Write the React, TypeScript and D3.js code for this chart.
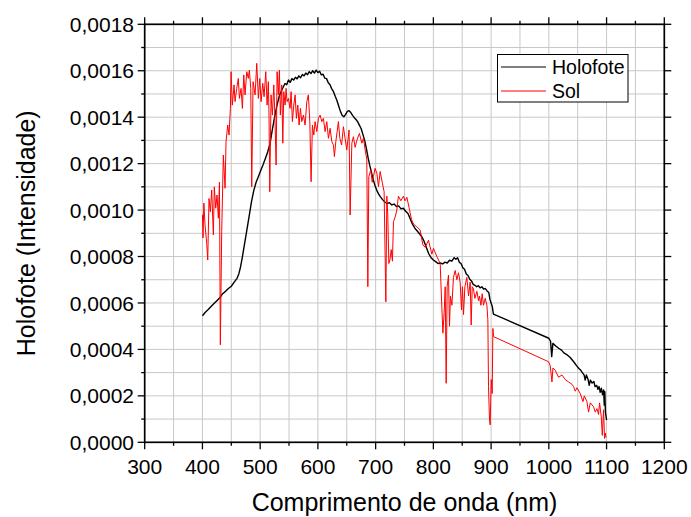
import React from "react";
import * as d3 from "d3";

const xTicks = [300, 400, 500, 600, 700, 800, 900, 1000, 1100, 1200];
const yTicks = [0, 0.0002, 0.0004, 0.0006, 0.0008, 0.001, 0.0012, 0.0014, 0.0016, 0.0018];
const seriesNames = ["Holofote", "Sol"];
const xTitle = "Comprimento de onda (nm)";
const yTitle = "Holofote (Intensidade)";

const holofoteNm = [
  400, 405, 410, 415, 420, 425, 430, 435, 440, 445, 450, 455, 460, 463, 466, 469, 472, 475, 478, 481,
  485, 489, 493, 497, 501, 505, 509, 513, 517, 521, 525, 529, 533, 537, 540, 543, 546, 549, 552, 555,
  558, 561, 564, 567, 570, 573, 576, 579, 582, 585, 588, 591, 594, 597, 600, 603, 606, 609, 612, 615,
  618, 621, 624, 627, 630, 633, 636, 639, 642, 645, 648, 651, 654, 657, 660, 663, 666, 669, 672, 675,
  678, 681, 684, 687, 690, 693, 696, 699, 702, 705, 708, 712, 716, 720, 724, 728, 732, 736, 740, 744,
  748, 752, 756, 760, 764, 768, 772, 776, 780, 784, 788, 792, 796, 800, 804, 808, 812, 816, 820, 824,
  828, 832, 836, 839, 842, 845, 848, 851, 854, 857, 860, 863, 866, 869, 872, 875, 878, 881, 884, 887,
  890, 893, 896, 898, 900, 902, 904, 1000, 1003, 1005, 1007, 1012, 1017, 1022, 1026, 1031, 1037, 1043,
  1048, 1052, 1055, 1058, 1061, 1063, 1065, 1068, 1070, 1072, 1075, 1078, 1080, 1083, 1085, 1087, 1089,
  1091, 1093, 1095, 1096, 1097, 1098, 1100,
];
const holofoteVal = [
  0.000545, 0.00056, 0.000572, 0.000585, 0.000598, 0.00061, 0.000622, 0.00064, 0.00065, 0.000662,
  0.000672, 0.00069, 0.000706, 0.000725, 0.000755, 0.000795, 0.00084, 0.000885, 0.00093, 0.000975,
  0.001036, 0.001085, 0.00112, 0.001145, 0.00117, 0.001195, 0.001222, 0.00125, 0.001285, 0.001345,
  0.0014, 0.00145, 0.00149, 0.001515, 0.00153, 0.001545, 0.00154, 0.00156, 0.00155, 0.001566,
  0.00156, 0.001572, 0.001565, 0.001578, 0.00157, 0.001584, 0.001578, 0.00159, 0.001583, 0.001596,
  0.001588, 0.0016, 0.00159, 0.001603, 0.001592, 0.001598, 0.001582, 0.001585, 0.001568, 0.001566,
  0.001548, 0.00154, 0.001522, 0.00151, 0.00149, 0.001472, 0.001448, 0.001425, 0.001408, 0.001402,
  0.001412, 0.001425, 0.001428, 0.00142, 0.001408, 0.001398, 0.00139, 0.00138, 0.001365, 0.00135,
  0.001325, 0.0013, 0.001265, 0.001225, 0.00119, 0.00116, 0.00113, 0.001105, 0.001085, 0.00107,
  0.001058, 0.001045, 0.001035, 0.001028, 0.001032, 0.001022, 0.001026, 0.001015, 0.001018, 0.001005,
  0.001008, 0.000995, 0.000985, 0.000962, 0.000938, 0.000922, 0.00091, 0.000898, 0.000885, 0.000865,
  0.000838, 0.000812, 0.000795, 0.000785, 0.000778, 0.00077, 0.000772, 0.000768, 0.000776, 0.000772,
  0.000784, 0.00078, 0.000795, 0.000788, 0.000795, 0.000775, 0.00077, 0.000752, 0.000745, 0.000725,
  0.000718, 0.000702, 0.000695, 0.00068, 0.000676, 0.00067, 0.000674, 0.000665, 0.00067, 0.00066,
  0.000662, 0.000652, 0.000645, 0.000615, 0.0006, 0.000585, 0.000552, 0.000448, 0.000435, 0.000369,
  0.000426, 0.000415, 0.000405, 0.000397, 0.000385, 0.000378, 0.000365, 0.000347, 0.00033, 0.000318,
  0.000311, 0.0003, 0.00029, 0.000268, 0.00029, 0.00027, 0.000245, 0.000268, 0.000255, 0.000262,
  0.00024, 0.000245, 0.000228, 0.00024, 0.000215, 0.000233, 0.000205, 0.000225, 0.00016, 0.000218,
  0.00013, 0.000096,
];

const solNm = [
  400, 401, 402.5, 404.5, 407.4, 409.2, 411.4, 413.7, 416.1, 418.9, 420.6, 423, 425.3, 427.6, 429.5,
  431, 433.4, 436.2, 439.2, 440.9, 443.8, 446.1, 448.4, 449.6, 451.8, 454.8, 456.5, 459.4, 462.2, 464,
  466.9, 469.2, 471.6, 473.8, 476.8, 479.5, 481.3, 483.7, 485.4, 487.7, 491.2, 494.1, 496.9, 499.3,
  501.6, 504.5, 506.8, 509.7, 512, 514.2, 515.4, 516.6, 518.9, 521.2, 523.6, 525.8, 527.6, 529.3,
  531.5, 533.3, 535, 537.4, 539.2, 540.9, 543.2, 544.9, 546.6, 548.9, 551.8, 553.6, 555.8, 558.2,
  560.5, 562.8, 565.2, 567.4, 569.7, 572.1, 574.9, 577.8, 580.8, 583.5, 586, 588.2, 590.5, 592.9,
  595.1, 598.1, 600.9, 603.8, 606.8, 609.5, 612.5, 615.4, 618.2, 621.1, 624.1, 626.9, 628.6, 631,
  633.3, 635.5, 638, 641, 644.2, 647, 650, 654, 655.8, 658.8, 661.5, 664.5, 667.4, 671.9, 676.1, 679,
  681.8, 684.7, 686.5, 688.2, 691.7, 694, 696.2, 699, 702.1, 704.9, 707.8, 711.8, 714.7, 717.7, 719.4,
  721, 722.9, 725.1, 726.9, 729.1, 730.9, 733.8, 736.7, 739.5, 743.7, 748.2, 751, 754.1, 758, 762,
  765.5, 771.4, 777.1, 781.8, 785.8, 791.5, 797.4, 800.2, 806, 811.8, 814.7, 816.5, 818.7, 820.5,
  822.2, 823.9, 826.2, 827.9, 829.6, 832.1, 834.8, 837.8, 840.7, 843.5, 846.4, 848.7, 850.4, 852.2,
  854.6, 858, 860.9, 863.8, 865.5, 867.3, 869.5, 871.9, 875.4, 878.2, 879.9, 882.3, 884.6, 886.8,
  889.8, 892.7, 894.4, 895.5, 897.2, 898.4, 900.2, 901.9, 903.1, 904.2, 999.5, 1002.4, 1005.4, 1007.1,
  1011.1, 1016.8, 1022.7, 1028.4, 1034.1, 1040, 1042.8, 1045.8, 1048.7, 1054.4, 1059.1, 1061.4, 1066,
  1068.8, 1071.8, 1077.5, 1080.4, 1083.4, 1086.1, 1087.9, 1090.8, 1092.6, 1094.8, 1096.5, 1097.7, 1099,
];
const solVal = [
  0.00098, 0.00088, 0.00103, 0.000936, 0.000857, 0.000785, 0.00105, 0.000993, 0.001086, 0.000893,
  0.0011, 0.001008, 0.001065, 0.000965, 0.00112, 0.00042, 0.000907, 0.001237, 0.001094, 0.001295,
  0.001366, 0.001323, 0.001438, 0.001596, 0.001452, 0.001539, 0.001467, 0.001524, 0.001567, 0.001481,
  0.001524, 0.001438, 0.001582, 0.001496, 0.001596, 0.001567, 0.001603, 0.001524, 0.0011, 0.001553,
  0.001496, 0.001632, 0.001481, 0.001567, 0.001467, 0.001546, 0.001488, 0.001596, 0.001452, 0.001553,
  0.001395, 0.001079, 0.001496, 0.001409, 0.001539, 0.001381, 0.001194, 0.001596, 0.001496, 0.001603,
  0.001409, 0.001539, 0.001288, 0.00151, 0.001452, 0.001524, 0.001467, 0.001481, 0.001438, 0.00151,
  0.001381, 0.001452, 0.001496, 0.001395, 0.001452, 0.001366, 0.001438, 0.001381, 0.001409, 0.001366,
  0.001467, 0.001496, 0.001381, 0.001122, 0.001366, 0.001323, 0.001381, 0.001338, 0.001395, 0.001409,
  0.001381, 0.001395, 0.001338, 0.001381, 0.001309, 0.001352, 0.001295, 0.00128, 0.00123, 0.001295,
  0.001338, 0.001381, 0.001309, 0.00128, 0.001359, 0.00131, 0.001259, 0.001345, 0.000979, 0.001288,
  0.001316, 0.00127, 0.0013, 0.00133, 0.001288, 0.00131, 0.001259, 0.00122, 0.00067, 0.001144,
  0.001173, 0.00112, 0.001144, 0.00118, 0.001159, 0.001101, 0.001166, 0.001115, 0.001079, 0.000605,
  0.00106, 0.00098, 0.00077, 0.00079, 0.00083, 0.00078, 0.00095, 0.00097, 0.001, 0.00106,
  0.00104, 0.00106, 0.00104, 0.001055, 0.00101, 0.00096, 0.00094, 0.000928, 0.000914, 0.00085,
  0.00084, 0.00087, 0.00081, 0.000835, 0.0008, 0.00077, 0.00058, 0.00047, 0.00056, 0.00067,
  0.000254, 0.00067, 0.00072, 0.0005, 0.00063, 0.00059, 0.00071, 0.00074, 0.0007, 0.00073,
  0.00069, 0.00057, 0.00067, 0.00055, 0.00067, 0.00071, 0.00063, 0.00069, 0.000505, 0.00067,
  0.00066, 0.00062, 0.00065, 0.00061, 0.00063, 0.00059, 0.00064, 0.00059, 0.00062, 0.00059,
  0.000527, 0.00024, 0.0001, 0.000075, 0.00027, 0.00021, 0.00049, 0.000455, 0.000347, 0.00033,
  0.00026, 0.00032, 0.00031, 0.00028, 0.00029, 0.00027, 0.00026, 0.00025, 0.00024, 0.00022,
  0.000235, 0.00021, 0.000175, 0.0002, 0.000175, 0.00013, 0.00017, 0.000153, 0.00013, 0.000145,
  0.00012, 0.00017, 0.00011, 0.00003, 0.00014, 0.000017, 0.00004, 0.00002,
];

const FONT = "'Liberation Sans', Arial, sans-serif";

export default function App() {
  const W = 691;
  const H = 517;
  const x = d3.scaleLinear().domain([300, 1200]).range([144.7, 664.3]);
  const y = d3.scaleLinear().domain([0, 0.0018]).range([442.3, 24.3]);
  const [x0, x1] = x.range();
  const [y0, y1] = y.range();

  const xMinor = xTicks.slice(0, -1).map((v) => v + 50);
  const yMinor = yTicks.slice(0, -1).map((v) => v + 0.0001);
  const xGrid = [...xTicks, ...xMinor].filter((v) => v > 300 && v < 1200);
  const yGrid = [...yTicks, ...yMinor].filter((v) => v > 0.00001 && v < 0.00179);

  const fmt = (v: number) => d3.format(".4f")(v).replace(".", ",");

  const line = d3
    .line<[number, number]>()
    .x((d) => x(d[0]))
    .y((d) => y(d[1]));
  const holo: [number, number][] = holofoteNm.map((n, i) => [n, holofoteVal[i]]);
  const sol: [number, number][] = solNm.map((n, i) => [n, solVal[i]]);

  const MAJ = 7;
  const MIN = 3.5;
  const axisW = 1.7;

  return (
    <svg
      width={W}
      height={H}
      style={{ position: "absolute", left: 0, top: 0, background: "#fff" }}
      fontFamily={FONT}
    >
      <rect x={0} y={0} width={W} height={H} fill="#fff" />
      {/* grid */}
      <g stroke="#c8c8c8" strokeWidth={1}>
        {xGrid.map((v) => (
          <line key={"gx" + v} x1={x(v)} x2={x(v)} y1={y1} y2={y0} />
        ))}
        {yGrid.map((v, i) => (
          <line key={"gy" + i} x1={x0} x2={x1} y1={y(v)} y2={y(v)} />
        ))}
      </g>
      {/* data */}
      <path d={line(holo) || ""} fill="none" stroke="#000" strokeWidth={1.4} strokeLinejoin="round" />
      <path d={line(sol) || ""} fill="none" stroke="#ff0000" strokeWidth={1} strokeLinejoin="round" />
      {/* axes frame */}
      <rect x={x0} y={y1} width={x1 - x0} height={y0 - y1} fill="none" stroke="#000" strokeWidth={axisW} />
      {/* ticks */}
      <g stroke="#000" strokeWidth={1.3}>
        {xTicks.map((v) => (
          <g key={"xt" + v}>
            <line x1={x(v)} x2={x(v)} y1={y0} y2={y0 + MAJ} />
            <line x1={x(v)} x2={x(v)} y1={y1} y2={y1 - MAJ} />
          </g>
        ))}
        {xMinor.map((v) => (
          <g key={"xm" + v}>
            <line x1={x(v)} x2={x(v)} y1={y0} y2={y0 + MIN} />
            <line x1={x(v)} x2={x(v)} y1={y1} y2={y1 - MIN} />
          </g>
        ))}
        {yTicks.map((v, i) => (
          <g key={"yt" + i}>
            <line x1={x0} x2={x0 - MAJ} y1={y(v)} y2={y(v)} />
            <line x1={x1} x2={x1 + MAJ} y1={y(v)} y2={y(v)} />
          </g>
        ))}
        {yMinor.map((v, i) => (
          <g key={"ym" + i}>
            <line x1={x0} x2={x0 - MIN} y1={y(v)} y2={y(v)} />
            <line x1={x1} x2={x1 + MIN} y1={y(v)} y2={y(v)} />
          </g>
        ))}
      </g>
      {/* tick labels */}
      <g fontSize={21} fill="#000">
        {xTicks.map((v) => (
          <text key={"xl" + v} x={x(v)} y={474} textAnchor="middle">
            {v}
          </text>
        ))}
        {yTicks.map((v, i) => (
          <text key={"yl" + i} x={134} y={y(v)} dy="0.36em" textAnchor="end">
            {fmt(v)}
          </text>
        ))}
      </g>
      {/* titles */}
      <text x={(x0 + x1) / 2} y={511} fontSize={25} textAnchor="middle" fill="#000">
        {xTitle}
      </text>
      <text
        transform={`translate(35, ${(y0 + y1) / 2}) rotate(-90)`}
        fontSize={25}
        textAnchor="middle"
        fill="#000"
      >
        {yTitle}
      </text>
      {/* legend */}
      <g>
        <rect x={497.5} y={54.5} width={130.5} height={47.5} fill="#fff" stroke="#000" strokeWidth={1} />
        <line x1={501} x2={546} y1={67} y2={67} stroke="#000" strokeWidth={1} />
        <line x1={501} x2={546} y1={91} y2={91} stroke="#ff0000" strokeWidth={1} />
        <text x={552} y={73.5} fontSize={19.5} fill="#000">
          {seriesNames[0]}
        </text>
        <text x={552} y={97.5} fontSize={19.5} fill="#000">
          {seriesNames[1]}
        </text>
      </g>
    </svg>
  );
}
